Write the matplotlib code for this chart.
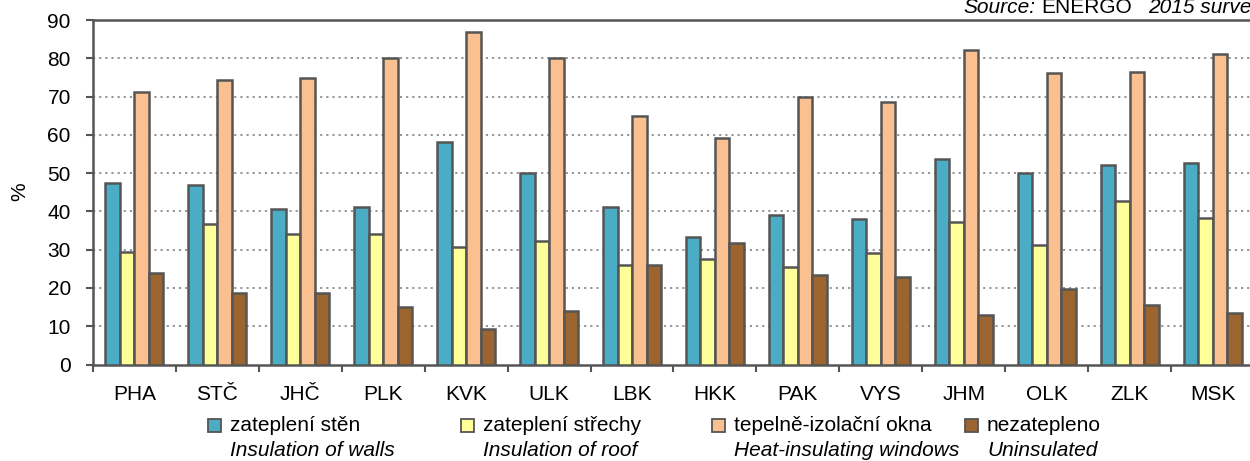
import matplotlib
matplotlib.use("Agg")
import matplotlib.pyplot as plt
from matplotlib.patches import Rectangle
import numpy as np

regions = ["PHA", "STČ", "JHČ", "PLK", "KVK", "ULK", "LBK",
           "HKK", "PAK", "VYS", "JHM", "OLK", "ZLK", "MSK"]
walls = [47.4, 46.9, 40.6, 41.1, 58.2, 50.0, 41.1, 33.2, 39.0, 38.0, 53.6, 50.0, 52.1, 52.6]
roof = [29.5, 36.8, 34.2, 34.2, 30.6, 32.3, 25.9, 27.6, 25.4, 29.0, 37.3, 31.1, 42.6, 38.4]
windows = [71.2, 74.3, 74.9, 80.0, 86.9, 80.1, 65.0, 59.3, 69.8, 68.7, 82.2, 76.1, 76.5, 81.2]
uninsulated = [23.8, 18.6, 18.6, 15.0, 9.2, 14.0, 25.9, 31.7, 23.3, 22.8, 13.0, 19.7, 15.5, 13.4]

labels_cz = ["zateplení stěn", "zateplení střechy", "tepelně-izolační okna", "nezatepleno"]
labels_en = ["Insulation of walls", "Insulation of roof", "Heat-insulating windows", "Uninsulated"]
colors = ["#4BACC6", "#FFFF99", "#FAC090", "#9C6530"]
edge = "#555555"

plt.rcParams['font.family'] = ['Liberation Sans', 'DejaVu Sans']
fs = 15

fig = plt.figure(figsize=(12.5, 4.61), dpi=100)
ax = fig.add_axes([93/1250, 1-364.5/461, 1161/1250, 344.5/461])

x = np.arange(len(regions))
w = 0.175
series = [walls, roof, windows, uninsulated]
for i, vals in enumerate(series):
    ax.bar(x + (i - 1.5)*w, vals, width=w, color=colors[i], edgecolor=edge,
           linewidth=1.8, zorder=3)

ax.set_xlim(-0.5, len(regions) - 0.5)
ax.set_ylim(0, 90)
ax.set_yticks(range(0, 91, 10))
ax.set_xticks(x)
ax.set_xticklabels(regions)
ax.set_xticks(np.arange(-0.5, len(regions), 1), minor=True)
ax.tick_params(axis='x', which='major', length=0, pad=15, labelsize=fs)
ax.tick_params(axis='x', which='minor', length=5, width=1.5, color=edge, direction='out')
ax.tick_params(axis='y', length=5, width=1.5, color=edge, labelsize=fs, pad=11)
for g in range(10, 90, 10):
    ax.axhline(g, color="#8c8c8c", linestyle=(0, (1.2, 2.2)), linewidth=1.3, zorder=1)
for s in ['left', 'bottom', 'top']:
    ax.spines[s].set_color(edge)
    ax.spines[s].set_linewidth(1.8)
ax.spines['right'].set_visible(False)
fig.text(20/1250, 1-192/461, "%", fontsize=fs, rotation=90, ha='center', va='center')

# legend drawn by hand: two lines per entry, second one in italics
marker_x = [208, 461, 712, 965]
for i in range(4):
    mx = marker_x[i]
    fig.patches.append(Rectangle((mx/1250, 1-432/461), 13/1250, 13/461,
                                 transform=fig.transFigure, facecolor=colors[i],
                                 edgecolor=edge, linewidth=1.3))
    fig.text((mx + 22)/1250, 1-425/461, labels_cz[i], fontsize=fs, va='center')
    fig.text((mx + 22)/1250, 1-450/461, labels_en[i], fontsize=fs, va='center',
             style='italic')

# source note, pieces placed one after another
renderer = fig.canvas.get_renderer()
xpos = 963
for txt, st, gap in [("Source:", 'italic', 6), ("ENERGO", 'normal', 16), ("2015 survey", 'italic', 0)]:
    t = fig.text(xpos/1250, 1-13/461, txt, fontsize=fs, style=st, va='baseline')
    xpos += t.get_window_extent(renderer).width + gap

fig.savefig("out.png", dpi=100)
